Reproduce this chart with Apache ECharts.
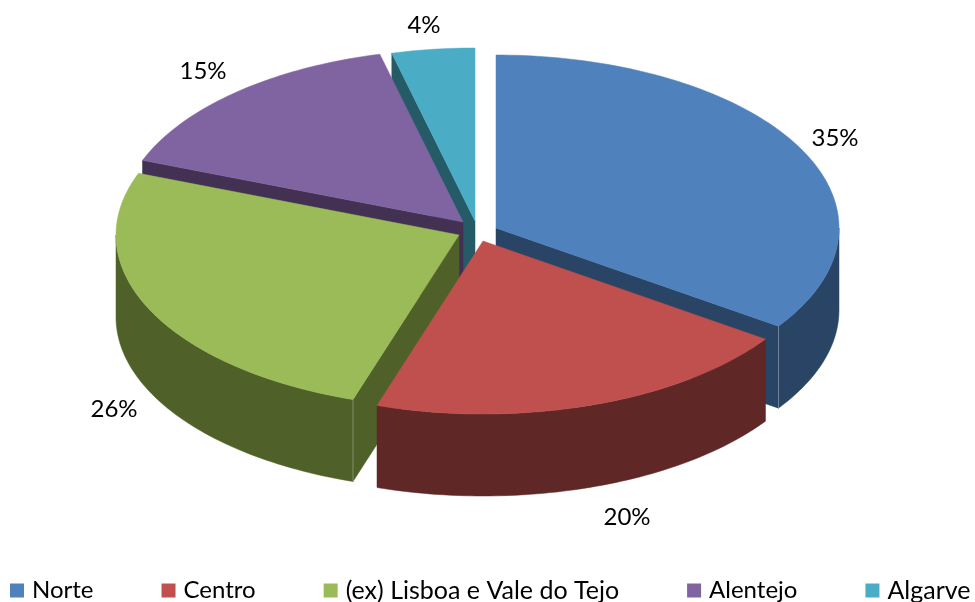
<!DOCTYPE html>
<html>
<head>
<meta charset="utf-8">
<style>html,body{margin:0;padding:0;background:#fff;overflow:hidden}#c{width:975px;height:602px}</style>
<script src="https://cdn.jsdelivr.net/npm/echarts@6/dist/echarts.min.js"></script>
</head>
<body>
<div id="c"></div>
<script>
const categories = ['Norte', 'Centro', '(ex) Lisboa e Vale do Tejo', 'Alentejo', 'Algarve'];
const values = [34.6, 20.4, 25.8, 15.3, 3.9];
const percentLabels = ['35%', '20%', '26%', '15%', '4%'];

const topColors = ['#4F81BD', '#C0504D', '#9BBB59', '#8064A2', '#4BACC6'];
const wallColors = ['#2A4465', '#5F2726', '#4F6129', '#423152', '#255A67'];
const apexes = [[496, 228], [483, 241], [459, 235], [463, 222], [475, 221]];
const labelCentres = [[835, 138], [627, 517], [114, 409], [203, 71], [424, 25]];
const legendFontSizes = [24, 24, 25, 24, 25];
const paintZ = [4, 6, 5, 3, 2];
const RX = 343, RY = 173, DEPTH = 82;

const total = values.reduce((a, b) => a + b, 0);
const starts = [];
values.reduce((acc, v, i) => { starts[i] = acc; return acc + v; }, 0);
const toAngle = v => v / total * Math.PI * 2;

function rim(c, a, dy) {
  return [c[0] + RX * Math.sin(a), c[1] - RY * Math.cos(a) + (dy || 0)];
}
function arcPts(c, a0, a1, dy) {
  const n = Math.max(2, Math.ceil(Math.abs(a1 - a0) / 0.02));
  const pts = [];
  for (let k = 0; k <= n; k++) pts.push(rim(c, a0 + (a1 - a0) * k / n, dy));
  return pts;
}
function poly(points, fill) {
  return { type: 'polygon', shape: { points }, style: { fill, stroke: fill, lineWidth: 0.5 } };
}
function edge(c, a, col) {
  const p = rim(c, a);
  return { type: 'line', shape: { x1: p[0], y1: p[1], x2: p[0], y2: p[1] + DEPTH },
           style: { stroke: col, lineWidth: 1 } };
}

function renderSlice(params, api) {
  const i = params.seriesIndex;
  const a0 = toAngle(starts[i]);
  const a1 = a0 + toAngle(api.value(0));
  const c = apexes[i];
  const wall = wallColors[i];
  const children = [];
  const down = p => [p[0], p[1] + DEPTH];

  if (Math.sin(a0) < -1e-6) {
    const p = rim(c, a0);
    children.push(poly([c, p, down(p), down(c)], wall));
  }
  if (Math.sin(a1) > 1e-6 && a1 < Math.PI * 2 - 1e-6) {
    const p = rim(c, a1);
    children.push(poly([c, p, down(p), down(c)], wall));
  }
  const f0 = Math.max(a0, Math.PI / 2), f1 = Math.min(a1, Math.PI * 1.5);
  if (f1 > f0) {
    const up = arcPts(c, f0, f1, 0);
    const lo = arcPts(c, f1, f0, DEPTH);
    children.push(poly(up.concat(lo), wall));
    if (a1 > f0 && a1 < f1 + 1e-6 && Math.sin(a1) > 0) children.push(edge(c, a1, 'rgba(255,255,255,0.3)'));
    if (a0 >= Math.PI / 2 && Math.sin(a0) < 0) children.push(edge(c, a0, 'rgba(255,255,255,0.3)'));
  }
  children.push(poly([c].concat(arcPts(c, a0, a1, 0)), topColors[i]));
  children.push({
    type: 'text', z2: 10,
    style: {
      x: labelCentres[i][0], y: labelCentres[i][1], text: percentLabels[i],
      fill: '#000', font: '24px Lato', align: 'center', verticalAlign: 'middle'
    }
  });
  return { type: 'group', children };
}

const chart = echarts.init(document.getElementById('c'), null, { renderer: 'canvas' });
chart.setOption({
  animation: false,
  backgroundColor: '#fff',
  color: topColors,
  legend: {
    data: categories.map((name, i) => ({
      name, icon: 'rect', itemStyle: { color: topColors[i] },
      textStyle: { fontFamily: 'Lato', fontSize: legendFontSizes[i], color: '#000', padding: [8, 0, 0, 3] }
    })),
    left: 10, top: 578, padding: 0,
    orient: 'horizontal',
    itemWidth: 14, itemHeight: 14, itemGap: 68,
    selectedMode: false,
    textStyle: { fontFamily: 'Lato', fontSize: 24, color: '#000', padding: [8, 0, 0, 3] }
  },
  series: categories.map((name, i) => ({
    type: 'custom',
    name,
    coordinateSystem: 'none',
    z: paintZ[i],
    silent: true,
    itemStyle: { color: topColors[i] },
    renderItem: renderSlice,
    data: [[values[i]]]
  }))
});
</script>
</body>
</html>
